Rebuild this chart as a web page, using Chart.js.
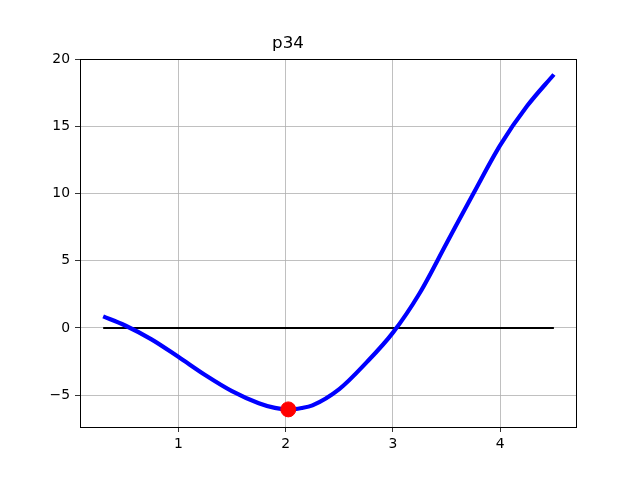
<!DOCTYPE html>
<html>
<head>
<meta charset="utf-8">
<title>p34</title>
<script src="https://cdn.jsdelivr.net/npm/chart.js@4/dist/chart.umd.min.js"></script>
<style>
  html, body { margin: 0; padding: 0; background: #fff; }
  canvas { display: block; }
</style>
</head>
<body>
<canvas id="plot" width="640" height="480"></canvas>
<script>
// values
const curveX = [0.3, 0.5, 0.75, 1.0, 1.25, 1.5, 1.75, 1.9, 2.03, 2.15, 2.25, 2.5, 2.75, 3.0, 3.25, 3.5, 3.75, 4.0, 4.25, 4.5];
const curveY = [0.86, 0.2, -0.85, -2.15, -3.5, -4.7, -5.6, -5.95, -6.07, -5.96, -5.76, -4.55, -2.6, -0.35, 2.6, 6.3, 10.0, 13.6, 16.5, 18.85];
const zeroX = [0.3, 4.5];
const zeroY = [0, 0];
const minPoint = { x: 2.025, y: -6.06 };
const xTicks = [1, 2, 3, 4];
const yTicks = [-5, 0, 5, 10, 15, 20];

const font = { family: "'DejaVu Sans', sans-serif", size: 13.9 };

// frame on all four sides like matplotlib spines
const frame = {
    id: "frame",
    afterDatasetsDraw(chart) {
        const a = chart.chartArea, ctx = chart.ctx;
        ctx.save();
        ctx.strokeStyle = "#000";
        ctx.lineWidth = 1;
        ctx.strokeRect(Math.round(a.left) + 0.5, Math.round(a.top) + 0.5, Math.round(a.right - a.left), Math.round(a.bottom - a.top));
        ctx.restore();
    }
};

const toPts = (xs, ys) => xs.map((x, i) => ({ x: x, y: ys[i] }));

new Chart(document.getElementById("plot").getContext("2d"), {
    type: "scatter",
    data: {
        datasets: [
            {
                data: [minPoint],
                backgroundColor: "#ff0000",
                borderColor: "#ff0000",
                pointRadius: 7.5,
                order: 0
            },
            {
                data: toPts(curveX, curveY),
                showLine: true,
                borderColor: "#0000ff",
                borderWidth: 4.2,
                pointRadius: 0,
                cubicInterpolationMode: "monotone",
                order: 1
            },
            {
                data: toPts(zeroX, zeroY),
                showLine: true,
                borderColor: "#000",
                borderWidth: 2,
                pointRadius: 0,
                order: 2
            }
        ]
    },
    options: {
        responsive: false,
        animation: false,
        devicePixelRatio: 1,
        layout: { padding: { left: 0, right: 64, top: 0, bottom: 0 } },
        plugins: {
            legend: { display: false },
            tooltip: { enabled: false },
            title: {
                display: true,
                text: "p34",
                color: "#000",
                font: { family: "'DejaVu Sans', sans-serif", size: 16.7, weight: "normal" },
                padding: { top: 34, bottom: 5 }
            }
        },
        scales: {
            x: {
                type: "linear",
                min: 0.084,
                max: 4.706,
                afterBuildTicks: s => { s.ticks = xTicks.map(v => ({ value: v })); },
                afterFit: s => { s.height = 53; },
                grid: { color: "#b0b0b0", lineWidth: 0.8, tickColor: "#000", tickLength: 5, drawTicks: true },
                border: { color: "#000", width: 1 },
                ticks: { color: "#000", font: font, padding: 4, maxRotation: 0 }
            },
            y: {
                type: "linear",
                min: -7.37,
                max: 20,
                afterBuildTicks: s => { s.ticks = yTicks.map(v => ({ value: v })); },
                afterFit: s => { s.width = 80; },
                grid: { color: "#b0b0b0", lineWidth: 0.8, tickColor: "#000", tickLength: 5, drawTicks: true },
                border: { color: "#000", width: 1 },
                ticks: { color: "#000", font: font, padding: 5, callback: v => String(v).replace("-", "\u2212") }
            }
        }
    },
    plugins: [frame]
});
</script>
</body>
</html>
